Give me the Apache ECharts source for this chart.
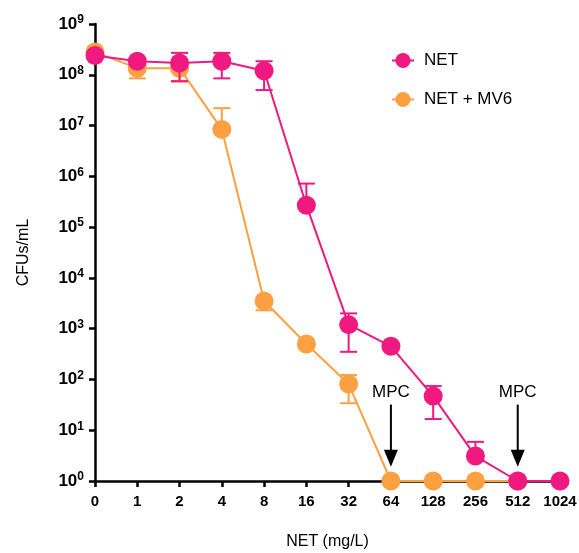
<!DOCTYPE html>
<html>
<head>
<meta charset="utf-8">
<script src="https://cdn.jsdelivr.net/npm/echarts@6/dist/echarts.min.js"></script>
<style>
  html, body { margin: 0; padding: 0; background: #fff; }
  #chart { width: 579px; height: 553px; }
</style>
</head>
<body>
<div id="chart"></div>
<script>
// Data
const doses = ['0', '1', '2', '4', '8', '16', '32', '64', '128', '256', '512', '1024'];

const netMean = [2.4e8, 1.85e8, 1.7e8, 1.85e8, 1.2e8, 2.7e5, 1.2e3, 4.5e2, 47, 3.1, 1, 1];
const netHigh = [null, null, 2.7e8, 2.7e8, 1.85e8, 7.2e5, 2.0e3, null, 74, 5.9, null, null];
const netLow  = [null, null, 7.5e7, 8.5e7, 5.0e7, null, 3.5e2, null, 16.6, null, null, null];

const mv6Mean = [2.8e8, 1.35e8, 1.35e8, 8.4e6, 3.5e3, 5.0e2, 81, 1, 1, 1, 1, null];
const mv6High = [null, null, null, 2.2e7, null, null, 122, null, null, null, null, null];
const mv6Low  = [null, 8.5e7, 7.3e7, null, 2.3e3, null, 34, null, null, null, null, null];

// MPC arrows: dose, arrow start value, arrow tip value
const mpcDoses = ['64', '512'];
const mpcFrom = 32;
const mpcTo = 1.9;

const PINK = '#F0197F';
const ORANGE = '#FDA042';
const FONT = "'Liberation Sans', Arial, sans-serif";

function errorData(mean, high, low) {
  const out = [];
  mean.forEach((m, i) => {
    if (m == null || (high[i] == null && low[i] == null)) return;
    out.push([i, low[i] ?? m, high[i] ?? m, low[i] != null ? 1 : 0, high[i] != null ? 1 : 0]);
  });
  return out;
}

function errorSeries(name, color, data, z) {
  return {
    name: name,
    type: 'custom',
    z: z,
    silent: true,
    data: data,
    renderItem: (params, api) => {
      const lo = api.coord([api.value(0), api.value(1)]);
      const hi = api.coord([api.value(0), api.value(2)]);
      const w = 8.5;
      const style = { stroke: color, lineWidth: 2, fill: null };
      const children = [
        { type: 'line', shape: { x1: lo[0], y1: lo[1], x2: hi[0], y2: hi[1] }, style }
      ];
      if (api.value(3)) children.push({ type: 'line', shape: { x1: lo[0] - w, y1: lo[1], x2: lo[0] + w, y2: lo[1] }, style });
      if (api.value(4)) children.push({ type: 'line', shape: { x1: hi[0] - w, y1: hi[1], x2: hi[0] + w, y2: hi[1] }, style });
      return { type: 'group', children };
    }
  };
}

const chart = echarts.init(document.getElementById('chart'), null, { renderer: 'canvas' });

chart.setOption({
  animation: false,
  textStyle: { fontFamily: FONT },
  grid: { left: 95, right: 19, top: 24, bottom: 72, containLabel: false, outerBoundsMode: 'none' },
  legend: {
    orient: 'vertical',
    left: 386,
    top: 47,
    itemWidth: 22,
    itemHeight: 19,
    itemGap: 22,
    data: ['NET', 'NET + MV6'],
    textStyle: { fontSize: 17, color: '#000', fontFamily: FONT, padding: [0, 0, 0, 5] }
  },
  xAxis: {
    type: 'category',
    data: doses,
    boundaryGap: false,
    name: 'NET (mg/L)',
    nameLocation: 'middle',
    nameGap: 53,
    nameTextStyle: { fontSize: 16, color: '#000', fontFamily: FONT },
    axisLine: { lineStyle: { color: '#000', width: 2.5 } },
    axisTick: { interval: 0, length: 6, lineStyle: { color: '#000', width: 2.5 } },
    axisLabel: { interval: 0, color: '#000', fontSize: 15, fontWeight: 'bold', margin: 13, fontFamily: FONT },
    splitLine: { show: false }
  },
  yAxis: {
    type: 'log',
    logBase: 10,
    min: 1,
    max: 1e9,
    splitNumber: 9,
    name: 'CFUs/mL',
    nameLocation: 'middle',
    nameGap: 63,
    nameTextStyle: { fontSize: 16, color: '#000', fontFamily: FONT },
    axisLine: { show: true, lineStyle: { color: '#000', width: 2.5 } },
    axisTick: { show: true, length: 6, lineStyle: { color: '#000', width: 2.5 } },
    splitLine: { show: false },
    axisLabel: {
      margin: 11,
      formatter: v => '{b|10}{s|' + Math.round(Math.log10(v)) + '}',
      rich: {
        b: { fontSize: 17, fontWeight: 'bold', color: '#000', fontFamily: FONT, lineHeight: 20 },
        s: { fontSize: 12, fontWeight: 'bold', color: '#000', fontFamily: FONT, verticalAlign: 'top', lineHeight: 20 }
      }
    }
  },
  series: [
    errorSeries('mv6Err', ORANGE, errorData(mv6Mean, mv6High, mv6Low), 2),
    {
      name: 'NET + MV6',
      type: 'line',
      z: 3,
      data: mv6Mean,
      symbol: 'circle',
      symbolSize: 19,
      itemStyle: { color: ORANGE },
      lineStyle: { color: ORANGE, width: 2 }
    },
    errorSeries('netErr', PINK, errorData(netMean, netHigh, netLow), 4),
    {
      name: 'NET',
      type: 'line',
      z: 5,
      data: netMean,
      symbol: 'circle',
      symbolSize: 19,
      itemStyle: { color: PINK },
      lineStyle: { color: PINK, width: 2 }
    },
    {
      type: 'custom',
      z: 6,
      silent: true,
      data: mpcDoses.map(d => [doses.indexOf(d), mpcFrom, mpcTo]),
      renderItem: (params, api) => {
        const top = api.coord([api.value(0), api.value(1)]);
        const tip = api.coord([api.value(0), api.value(2)]);
        const headH = 17, headW = 7;
        return {
          type: 'group',
          children: [
            { type: 'line', shape: { x1: top[0], y1: top[1], x2: tip[0], y2: tip[1] - headH + 2 },
              style: { stroke: '#000', lineWidth: 2 } },
            { type: 'polygon', shape: { points: [[tip[0] - headW, tip[1] - headH], [tip[0] + headW, tip[1] - headH], [tip[0], tip[1]]] },
              style: { fill: '#000' } },
            { type: 'text', x: top[0], y: top[1] - 12,
              style: { text: 'MPC', fill: '#000', fontSize: 17, fontFamily: FONT, align: 'center', verticalAlign: 'middle' } }
          ]
        };
      }
    }
  ]
});
</script>
</body>
</html>
